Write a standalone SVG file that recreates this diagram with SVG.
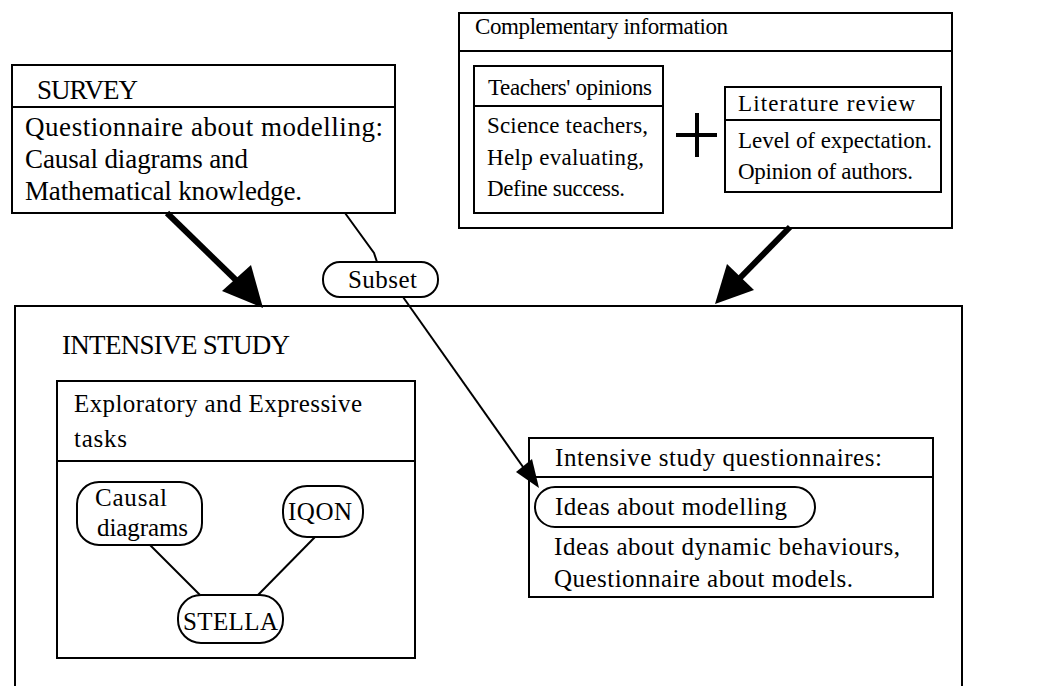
<svg xmlns="http://www.w3.org/2000/svg" width="1059" height="686" viewBox="0 0 1059 686">
  <style>
    text { font-size: 25px; fill: #000; }
    .lg { font-size: 27px; }
    .sm { font-size: 23px; }
    .box { fill: #fff; stroke: #000; stroke-width: 2; }
    .div { stroke: #000; stroke-width: 2; }
    .pill { fill: #fff; stroke: #000; stroke-width: 2; }
    .thin { fill: none; stroke: #000; stroke-width: 2; }
    .thick { fill: none; stroke: #000; stroke-width: 6; }
    .head { fill: #000; stroke: none; }
  </style>
  <rect width="1059" height="686" fill="#fff"/>

  <g font-family="Liberation Serif">

  <!-- outer study frame, open at the bottom -->
  <g id="intensive-study">
    <path class="thin" d="M15,690 V306 H962 V690"/>
    <text class="lg" x="62" y="354" textLength="228">INTENSIVE STUDY</text>
  </g>

  <g id="survey">
    <rect class="box" x="12" y="65" width="383" height="148"/>
    <line class="div" x1="12" y1="107" x2="395" y2="107"/>
    <text class="lg" x="37" y="99" textLength="101">SURVEY</text>
    <text class="lg" x="25" y="136" textLength="358">Questionnaire about modelling:</text>
    <text class="lg" x="25" y="168" textLength="223">Causal diagrams and</text>
    <text class="lg" x="25" y="200" textLength="277">Mathematical knowledge.</text>
  </g>

  <g id="complementary">
    <rect class="box" x="459" y="13" width="493" height="215"/>
    <line class="div" x1="459" y1="51" x2="952" y2="51"/>
    <text class="sm" x="475" y="34" textLength="253">Complementary information</text>
    <!-- plus sign between the two sources -->
    <path d="M676,135 H717 M697,113 V157" stroke="#000" stroke-width="4" fill="none"/>
  </g>

  <g id="teachers">
    <rect class="box" x="474" y="66" width="189" height="147"/>
    <line class="div" x1="474" y1="106" x2="663" y2="106"/>
    <text class="sm" x="488" y="95" textLength="164">Teachers' opinions</text>
    <text class="sm" x="487" y="133" textLength="161">Science teachers,</text>
    <text class="sm" x="487" y="165" textLength="157">Help evaluating,</text>
    <text class="sm" x="487" y="196" textLength="138">Define success.</text>
  </g>

  <g id="literature">
    <rect class="box" x="725" y="87" width="216" height="105"/>
    <line class="div" x1="725" y1="120" x2="941" y2="120"/>
    <text class="sm" x="738" y="111" textLength="177">Literature review</text>
    <text class="sm" x="738" y="148" textLength="194">Level of expectation.</text>
    <text class="sm" x="738" y="179" textLength="175">Opinion of authors.</text>
  </g>

  <g id="tasks">
    <rect class="box" x="57" y="381" width="358" height="277"/>
    <line class="div" x1="57" y1="461" x2="415" y2="461"/>
    <text x="74" y="412" textLength="288">Exploratory and Expressive</text>
    <text x="74" y="447" textLength="53">tasks</text>
  </g>

  <g id="questionnaires">
    <rect class="box" x="529" y="438" width="404" height="159"/>
    <line class="div" x1="529" y1="477" x2="933" y2="477"/>
    <text x="555" y="466" textLength="327">Intensive study questionnaires:</text>
    <text x="554" y="555" textLength="346">Ideas about dynamic behaviours,</text>
    <text x="554" y="587" textLength="299">Questionnaire about models.</text>
  </g>

  <g id="connectors">
    <!-- SURVEY -> INTENSIVE STUDY -->
    <line class="thick" x1="167" y1="213" x2="240" y2="284"/>
    <polygon class="head" points="263,308 222,291 251,265"/>
    <!-- Complementary information -> INTENSIVE STUDY -->
    <line class="thick" x1="790" y1="227" x2="738" y2="280"/>
    <polygon class="head" points="715,304 727,264 754,290"/>
    <!-- SURVEY -> Subset -> Ideas about modelling -->
    <path class="thin" d="M345,213 L374,253 L377,262"/>
    <line class="thin" x1="403" y1="297" x2="528" y2="474"/>
    <polygon class="head" points="539,488 516,472 532,459"/>
    <!-- tool links -->
    <line class="thin" x1="150" y1="545" x2="200" y2="595"/>
    <line class="thin" x1="315" y1="537" x2="258" y2="595"/>
  </g>

  <g id="subset">
    <rect class="pill" x="323" y="262" width="115" height="35" rx="17"/>
    <text x="348" y="288" textLength="69">Subset</text>
  </g>

  <g id="ideas-modelling">
    <rect class="pill" x="535" y="487" width="280" height="40" rx="20"/>
    <text x="555" y="515" textLength="232">Ideas about modelling</text>
  </g>

  <g id="causal">
    <rect class="pill" x="77" y="482" width="125" height="63" rx="22"/>
    <text x="95" y="506" textLength="72">Causal</text>
    <text x="97" y="536" textLength="91">diagrams</text>
  </g>

  <g id="iqon">
    <rect class="pill" x="283" y="486" width="80" height="51" rx="24"/>
    <text x="288" y="520" textLength="64">IQON</text>
  </g>

  <g id="stella">
    <rect class="pill" x="178" y="595" width="105" height="48" rx="23"/>
    <text x="183" y="630" textLength="95">STELLA</text>
  </g>

  </g>
</svg>
